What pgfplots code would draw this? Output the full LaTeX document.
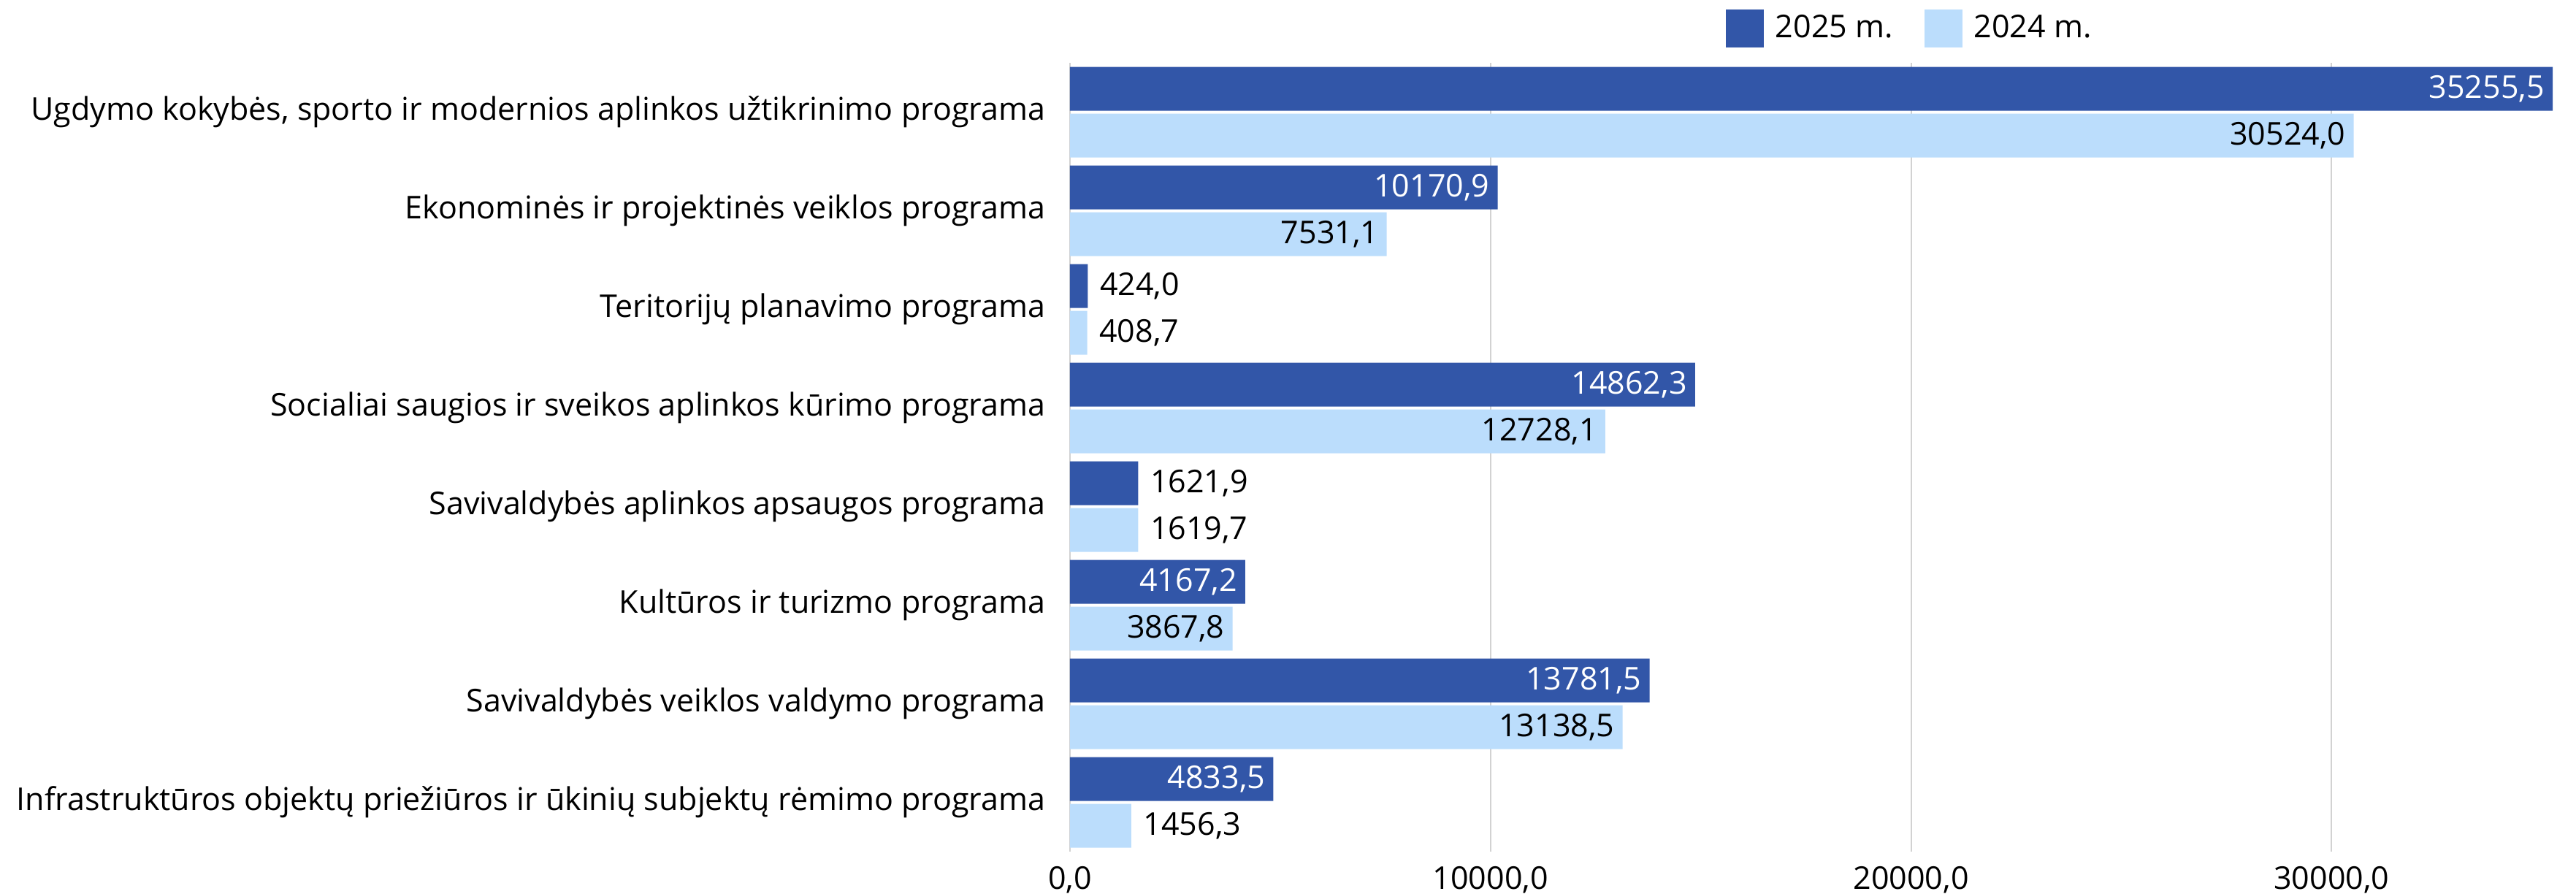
\documentclass[border=0pt]{standalone}
\usepackage{pgfplots}
\pgfplotsset{compat=1.18}
\usepackage{pgfplotstable}
\usepackage{fontspec}
\setmainfont{Open Sans}
\definecolor{dark}{RGB}{50,86,168}
\definecolor{light}{RGB}{187,221,252}
\definecolor{gridc}{RGB}{210,210,210}

% 2025 m.: bars with the value inside
\pgfplotstableread{
y x lab
0 35255.5 35255,5
1 10170.9 10170,9
3 14862.3 14862,3
5 4167.2 4167,2
6 13781.5 13781,5
7 4833.5 4833,5
}\dataAin
% 2025 m.: bars with the value outside
\pgfplotstableread{
y x lab
2 424.0 424,0
4 1621.9 1621,9
}\dataAout
% 2024 m.: value inside
\pgfplotstableread{
y x lab
0 30524.0 30524,0
1 7531.1 7531,1
3 12728.1 12728,1
5 3867.8 3867,8
6 13138.5 13138,5
}\dataBin
% 2024 m.: value outside
\pgfplotstableread{
y x lab
2 408.7 408,7
4 1619.7 1619,7
7 1456.3 1456,3
}\dataBout

\begin{document}
\fontsize{10.75}{12.9}\selectfont
\begin{tikzpicture}
\useasboundingbox (0,0) rectangle (881.75pt,305.75pt);
\begin{axis}[
  at={(366.25pt,14.25pt)}, anchor=south west,
  scale only axis, width=507.5pt, height=270pt,
  xbar, bar width=15pt,
  xmin=0, xmax=35255.5,
  ymin=-0.5, ymax=7.5, y dir=reverse,
  ytick={0,...,7},
  yticklabels={{Ugdymo kokybės, sporto ir modernios aplinkos užtikrinimo programa},
    {Ekonominės ir projektinės veiklos programa},
    {Teritorijų planavimo programa},
    {Socialiai saugios ir sveikos aplinkos kūrimo programa},
    {Savivaldybės aplinkos apsaugos programa},
    {Kultūros ir turizmo programa},
    {Savivaldybės veiklos valdymo programa},
    {Infrastruktūros objektų priežiūros ir ūkinių subjektų rėmimo programa}},
  xtick={0,10000,20000,30000},
  scaled x ticks=false,
  xmajorgrids, major grid style={gridc, line width=0.5pt},
  axis line style={draw=none},
  major tick length=0pt,
  /pgf/number format/fixed, /pgf/number format/fixed zerofill,
  /pgf/number format/precision=1, /pgf/number format/use comma,
  /pgf/number format/1000 sep={}, /pgf/number format/assume math mode=true,
  xticklabel style={inner sep=0pt, yshift=-5pt},
  yticklabel style={inner sep=0pt, xshift=-8.25pt},
  legend style={at={(axis description cs:0.4419,1.0435)}, anchor=west,
    draw=none, fill=none, inner sep=0pt, legend columns=2,
    nodes={inner sep=0pt},
    /tikz/every odd column/.append style={column sep=4pt},
    /tikz/every even column/.append style={column sep=10.75pt}},
  legend cell align=left,
  legend image code/.code={\fill[#1] (0pt,-6.5pt) rectangle (13pt,6.5pt);},
  point meta=explicit symbolic,
  nodes near coords style={anchor=west, inner sep=0pt},
]
\addplot[fill=dark, draw=none, bar shift=8pt,
  nodes near coords={\llap{\color{white}\pgfplotspointmeta\hspace{3.5pt}}}]
  table[x=x, y=y, meta=lab] {\dataAin};
\addplot[fill=light, draw=none, bar shift=-8pt,
  nodes near coords={\llap{\pgfplotspointmeta\hspace{3.5pt}}}]
  table[x=x, y=y, meta=lab] {\dataBin};
\addplot[fill=dark, draw=none, bar shift=8pt, forget plot,
  nodes near coords={\hspace{4pt}\pgfplotspointmeta}]
  table[x=x, y=y, meta=lab] {\dataAout};
\addplot[fill=light, draw=none, bar shift=-8pt, forget plot,
  nodes near coords={\hspace{4pt}\pgfplotspointmeta}]
  table[x=x, y=y, meta=lab] {\dataBout};
\legend{2025 m., 2024 m.}
\end{axis}
\end{tikzpicture}
\end{document}
